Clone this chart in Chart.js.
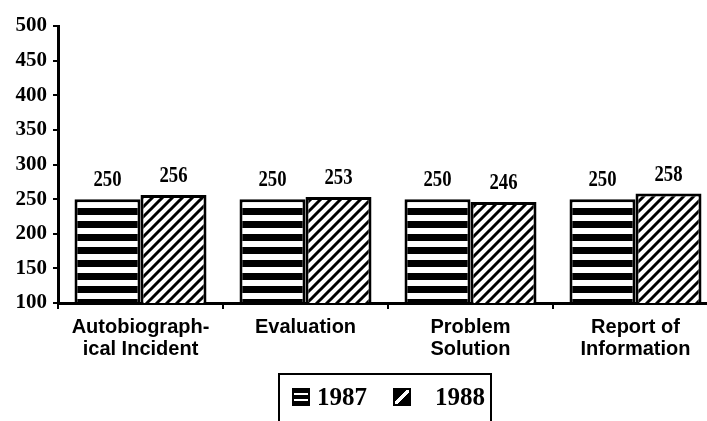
<!DOCTYPE html>
<html>
<head>
<meta charset="utf-8">
<title>Writing scores 1987 and 1988</title>
<script src="https://cdn.jsdelivr.net/npm/chart.js@4.4.0/dist/chart.umd.min.js"></script>
<style>
  html, body { margin: 0; padding: 0; background: #fff; overflow: hidden; }
  #wrap { position: relative; width: 707px; height: 421px; overflow: hidden; }
  #scoreChart { position: absolute; left: 0; top: 0; }
  #legendBox {
    position: absolute; left: 278px; top: 373px; width: 210px; height: 60px;
    border: 2px solid #000; border-bottom: none;
    font: bold 25px "Liberation Serif", serif; color: #000;
  }
  .item { position: absolute; top: 12px; height: 20px; line-height: 20px; }
  .swatch { position: absolute; top: 1px; width: 14px; height: 14px; border: 2px solid #000; }
</style>
</head>
<body>
<div id="wrap">
  <canvas id="scoreChart" width="720" height="421"></canvas>
  <div id="legendBox"></div>
</div>
<script>
'use strict';

const categories = [['Autobiograph-', 'ical Incident'], 'Evaluation', ['Problem', 'Solution'], ['Report of', 'Information']];
const years = ['1987', '1988'];
const scores1987 = [250, 250, 250, 250];
const scores1988 = [256, 253, 246, 258];
const yMin = 100;
const yMax = 500;
const yStep = 50;

// black/white fills like the printed chart
function stripePattern() {
  let c = document.createElement('canvas');
  c.width = 8; c.height = 13;
  let g = c.getContext('2d');
  g.fillStyle = '#fff';
  g.fillRect(0, 0, 8, 13);
  g.fillStyle = '#000';
  g.fillRect(0, 0, 8, 7);
  return g.createPattern(c, 'repeat');
}

function hatchPattern() {
  let s = 10;
  let c = document.createElement('canvas');
  c.width = s; c.height = s;
  let g = c.getContext('2d');
  g.fillStyle = '#fff';
  g.fillRect(0, 0, s, s);
  g.strokeStyle = '#000';
  g.lineWidth = 3;
  g.beginPath();
  g.moveTo(0, s); g.lineTo(s, 0);
  g.moveTo(-s / 2, s / 2); g.lineTo(s / 2, -s / 2);
  g.moveTo(s / 2, s * 1.5); g.lineTo(s * 1.5, s / 2);
  g.stroke();
  return g.createPattern(c, 'repeat');
}

const valueLabels = {
  id: 'valueLabels',
  afterDatasetsDraw(chart) {
    let ctx = chart.ctx;
    ctx.save();
    ctx.fillStyle = '#000';
    ctx.font = 'bold 24px "Liberation Serif", serif';
    ctx.textAlign = 'center';
    ctx.textBaseline = 'alphabetic';
    chart.data.datasets.forEach((ds, i) => {
      chart.getDatasetMeta(i).data.forEach((bar, j) => {
        ctx.save();
        ctx.translate(bar.x, bar.y - 13);
        ctx.scale(0.78, 1);
        ctx.fillText(ds.data[j], 0, 0);
        ctx.restore();
      });
    });
    ctx.restore();
  }
};

const fills = [stripePattern(), hatchPattern()];

const data = {
  labels: categories,
  datasets: [
    {
      label: years[0],
      data: scores1987,
      backgroundColor: fills[0],
      borderColor: '#000',
      borderWidth: 3,
      borderSkipped: false,
      categoryPercentage: 0.8,
      barPercentage: 1
    },
    {
      label: years[1],
      data: scores1988,
      backgroundColor: fills[1],
      borderColor: '#000',
      borderWidth: 3,
      borderSkipped: false,
      categoryPercentage: 0.8,
      barPercentage: 1
    }
  ]
};

const config = {
  type: 'bar',
  data: data,
  options: {
    responsive: false,
    animation: false,
    layout: { padding: { top: 26, right: 2, bottom: 54, left: 0 } },
    plugins: {
      legend: { display: false },
      tooltip: { enabled: false }
    },
    scales: {
      x: {
        grid: { offset: true, drawOnChartArea: false, tickLength: 6, color: '#000', lineWidth: 2 },
        border: { color: '#000', width: 3 },
        ticks: {
          color: '#000',
          padding: 7,
          maxRotation: 0,
          autoSkip: false,
          font: { family: '"Liberation Sans", Arial, sans-serif', weight: 'bold', size: 20, lineHeight: 1.1 }
        }
      },
      y: {
        min: yMin,
        max: yMax,
        grid: { drawOnChartArea: false, tickLength: 5, color: '#000', lineWidth: 2 },
        border: { color: '#000', width: 3 },
        ticks: {
          stepSize: yStep,
          color: '#000',
          padding: 6,
          font: { family: '"Liberation Serif", serif', weight: 'bold', size: 21 }
        },
        afterFit: scale => { scale.width = 58; }
      }
    }
  },
  plugins: [valueLabels]
};

const scoreChart = new Chart(document.getElementById('scoreChart'), config);

// legend box under the chart
let legendBox = document.getElementById('legendBox');
let swatchCss = [
  'linear-gradient(#000 0 3px, #fff 3px 5px, #000 5px 9px, #fff 9px 11px, #000 11px)',
  'linear-gradient(to bottom right, #000 0 40%, #fff 40% 60%, #000 60%)'
];
let swatchLeft = [12, 113];
let textLeft = [37, 155];
for (let i = 0; i < years.length; i++) {
  let sw = document.createElement('div');
  sw.className = 'swatch';
  sw.style.left = swatchLeft[i] + 'px';
  sw.style.top = '13px';
  sw.style.background = swatchCss[i];
  legendBox.appendChild(sw);

  let txt = document.createElement('div');
  txt.className = 'item';
  txt.style.left = textLeft[i] + 'px';
  txt.textContent = years[i];
  legendBox.appendChild(txt);
}
</script>
</body>
</html>
